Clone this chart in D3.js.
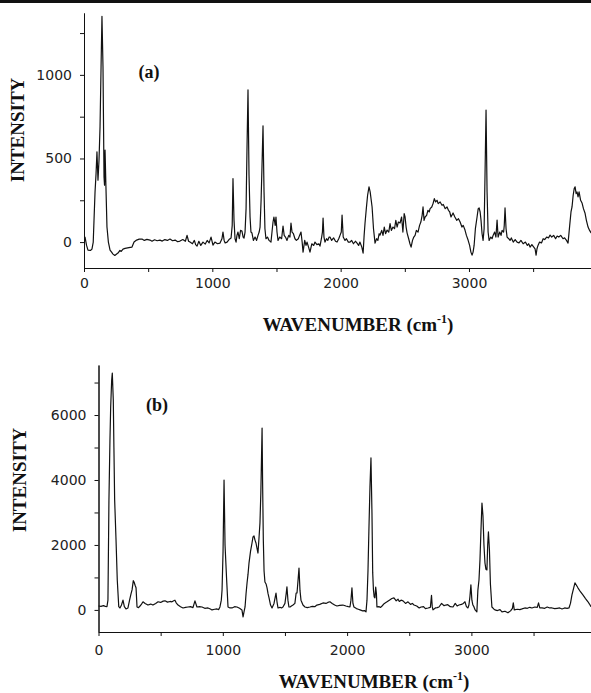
<!DOCTYPE html>
<html>
  <head>
    <meta charset="utf-8" />
    <title>Spectra (a) and (b)</title>
    <script src="https://d3js.org/d3.v7.min.js"></script>
    <style>
      body { margin: 0; background: white; }
      .tick text { font-family: "DejaVu Sans", sans-serif; font-size: 14px; fill: #222; }
      .domain, .tick line { stroke: #111; stroke-width: 1; }
      .title { font-family: "Liberation Serif", "Times New Roman", serif; font-weight: bold; fill: #111; }
    </style>
  </head>
  <body>
    <svg width="591" height="693" id="chart"></svg>

    <script>
      // spectrum (a): [wavenumber, intensity]
      var spectrumA = [
        [0, 30], [8, 30], [20, -20], [31, -48], [50, -50], [62, -42], [72, 0], [78, 130], [86, 300], [94, 410],
        [101, 540], [109, 370], [117, 490], [125, 690], [133, 1050], [140, 1350], [148, 1050], [156, 390], [160, 340], [164, 550],
        [171, 330], [179, 90], [190, 0], [203, -48], [215, -60], [226, -72], [240, -80], [257, -70], [265, -66], [280, -50],
        [290, -55], [304, -42], [320, -38], [340, -35], [360, -32], [374, -30], [390, 0], [410, 12], [430, 18], [452, 18],
        [470, 10], [490, 16], [514, 12], [530, 5], [550, 14], [570, 8], [592, 12], [610, 6], [630, 15], [650, 10],
        [670, 18], [690, 8], [710, 12], [730, 2], [748, 6], [770, 15], [790, 5], [803, 40], [815, 5], [826, 0],
        [845, -10], [860, 10], [870, -15], [881, -24], [895, 5], [910, -20], [927, 0], [945, -12], [960, 10], [975, -5],
        [990, 30], [1005, -18], [1020, 0], [1040, -10], [1060, -6], [1075, 20], [1083, 60], [1092, 10], [1100, -5], [1115, 0],
        [1130, 15], [1146, 24], [1155, 100], [1161, 380], [1169, 130], [1177, 20], [1185, 0], [1192, 40], [1200, 60], [1210, 20],
        [1220, 70], [1231, 66], [1240, 30], [1247, 24], [1255, 60], [1263, 200], [1270, 550], [1278, 910], [1286, 400], [1294, 150],
        [1301, 60], [1309, 54], [1320, 10], [1333, 30], [1345, 10], [1356, 40], [1365, 60], [1372, 90], [1380, 250], [1387, 450],
        [1395, 695], [1403, 300], [1410, 80], [1418, 20], [1430, 30], [1442, 10], [1457, 0], [1465, 60], [1473, 120], [1480, 150],
        [1490, 100], [1496, 150], [1504, 60], [1512, 10], [1525, 30], [1540, 20], [1551, 96], [1560, 40], [1570, 30], [1582, 10],
        [1595, 40], [1605, 30], [1613, 114], [1621, 60], [1632, 50], [1644, 20], [1655, 10], [1670, 20], [1680, 40], [1691, 60],
        [1700, 0], [1707, -60], [1720, 10], [1730, -20], [1738, 0], [1750, -30], [1761, -60], [1775, -10], [1790, -20], [1800, 0],
        [1815, -15], [1830, -10], [1839, -24], [1850, 20], [1858, 60], [1863, 144], [1870, 30], [1878, 0], [1890, 20], [1900, 10],
        [1910, 30], [1917, 30], [1930, 10], [1945, 25], [1960, 5], [1972, 0], [1985, 20], [1995, 40], [2005, 60], [2011, 162],
        [2020, 30], [2034, 10], [2045, 20], [2060, 0], [2073, 0], [2085, 10], [2100, -10], [2115, 5], [2128, -6], [2140, -20],
        [2150, 0], [2165, -30], [2175, -66], [2183, 40], [2190, 114], [2200, 200], [2210, 280], [2221, 330], [2230, 300], [2245, 210],
        [2256, 80], [2268, -6], [2280, 20], [2290, 10], [2300, 50], [2307, 42], [2320, 70], [2330, 40], [2340, 90], [2350, 50],
        [2362, 72], [2375, 60], [2385, 110], [2395, 70], [2408, 90], [2420, 80], [2430, 130], [2440, 90], [2450, 120], [2463, 114],
        [2475, 150], [2485, 60], [2495, 170], [2502, 150], [2510, 90], [2518, 54], [2530, 20], [2540, -10], [2549, -30], [2560, 10],
        [2570, 30], [2580, 40], [2590, 70], [2603, 60], [2615, 100], [2625, 120], [2635, 160], [2642, 210], [2650, 130], [2658, 150],
        [2670, 160], [2680, 190], [2690, 180], [2697, 200], [2710, 210], [2720, 230], [2730, 260], [2740, 240], [2751, 250], [2760, 230],
        [2775, 240], [2790, 220], [2800, 225], [2815, 200], [2829, 210], [2840, 190], [2850, 180], [2860, 150], [2876, 174], [2890, 150],
        [2905, 130], [2918, 140], [2931, 120], [2945, 90], [2955, 100], [2969, 72], [2980, 40], [2993, 12], [3005, -20], [3015, -60],
        [3024, -78], [3032, -60], [3040, -20], [3050, 80], [3063, 150], [3072, 200], [3079, 204], [3087, 180], [3094, 130], [3102, 50],
        [3110, 10], [3118, 80], [3125, 400], [3133, 790], [3141, 300], [3149, 60], [3157, 10], [3170, 30], [3180, 20], [3188, 40],
        [3200, 60], [3210, 30], [3219, 132], [3227, 30], [3240, 60], [3250, 40], [3258, 70], [3270, 60], [3275, 100], [3281, 204],
        [3289, 80], [3297, 30], [3310, 20], [3320, 10], [3330, 25], [3345, 0], [3360, 15], [3375, 0], [3390, -5], [3405, 10],
        [3422, -10], [3440, 0], [3455, -20], [3465, -10], [3476, -30], [3490, -15], [3505, -30], [3515, -40], [3523, -78], [3530, -40],
        [3538, -20], [3550, 0], [3565, -5], [3578, 20], [3590, 15], [3605, 30], [3620, 25], [3632, 42], [3645, 30], [3660, 40],
        [3675, 20], [3687, 36], [3700, 30], [3715, 40], [3733, 20], [3745, 25], [3760, 10], [3772, -6], [3785, 100], [3795, 180],
        [3803, 210], [3812, 280], [3820, 320], [3827, 330], [3835, 290], [3842, 300], [3850, 270], [3858, 300], [3870, 250], [3881, 234],
        [3892, 200], [3904, 174], [3915, 130], [3928, 90], [3940, 70], [3952, 54]
      ];

      // spectrum (b): [wavenumber, intensity]
      var spectrumB = [
        [0, 120], [20, 110], [40, 130], [55, 110], [68, 100], [76, 300], [84, 3380], [92, 5200], [98, 6250], [106, 7080],
        [111, 7290], [119, 6460], [124, 5000], [130, 3380], [141, 2150], [151, 920], [163, 100], [173, 60], [185, 150], [197, 300],
        [208, 100], [221, 30], [237, 60], [250, 300], [262, 500], [270, 615], [280, 900], [286, 860], [295, 750], [302, 680],
        [310, 90], [322, 70], [334, 120], [346, 180], [358, 250], [375, 200], [398, 150], [420, 180], [438, 150], [460, 200],
        [479, 250], [500, 230], [520, 270], [535, 280], [555, 240], [575, 260], [591, 250], [605, 280], [615, 300], [625, 220],
        [640, 150], [660, 100], [680, 60], [700, 80], [720, 90], [740, 100], [760, 70], [776, 280], [792, 90], [812, 100],
        [833, 90], [855, 50], [881, 60], [900, 30], [913, 0], [935, 20], [953, 30], [967, 10], [977, 90], [988, 300],
        [994, 615], [1002, 1800], [1010, 4000], [1018, 2000], [1031, 920], [1042, 90], [1058, 60], [1074, 60], [1095, 100], [1114, 90],
        [1135, 50], [1154, 0], [1163, -215], [1171, -50], [1179, 90], [1187, 500], [1195, 830], [1203, 1100], [1211, 1450], [1223, 1800],
        [1235, 2060], [1243, 2250], [1251, 2280], [1259, 2150], [1267, 2060], [1275, 1900], [1283, 1750], [1291, 2200], [1299, 2680], [1306, 3600],
        [1311, 4600], [1316, 5600], [1320, 4000], [1326, 2150], [1332, 1200], [1339, 860], [1348, 800], [1356, 680], [1364, 500], [1372, 370],
        [1384, 150], [1396, 60], [1412, 200], [1428, 520], [1436, 250], [1444, 60], [1460, 80], [1472, 60], [1484, 90], [1500, 200],
        [1510, 500], [1516, 710], [1524, 300], [1532, 90], [1541, 90], [1552, 120], [1565, 150], [1580, 200], [1590, 520], [1597, 520],
        [1605, 900], [1613, 1290], [1621, 600], [1629, 300], [1645, 150], [1661, 90], [1680, 70], [1701, 90], [1720, 110], [1740, 100],
        [1757, 150], [1780, 170], [1806, 215], [1830, 200], [1845, 230], [1862, 250], [1880, 200], [1900, 150], [1918, 120], [1940, 140],
        [1966, 150], [1990, 120], [2010, 100], [2023, 90], [2031, 300], [2039, 680], [2047, 200], [2055, 90], [2075, 40], [2090, 20],
        [2104, 0], [2125, -30], [2140, -20], [2152, -60], [2160, 300], [2168, 1200], [2176, 2550], [2184, 3800], [2192, 4680], [2200, 3000],
        [2206, 1140], [2212, 615], [2218, 400], [2224, 370], [2230, 700], [2236, 500], [2240, 90], [2255, 100], [2270, 80], [2281, 120],
        [2300, 200], [2321, 250], [2340, 300], [2360, 350], [2377, 370], [2395, 280], [2410, 330], [2420, 260], [2434, 300], [2450, 280],
        [2470, 200], [2490, 250], [2510, 170], [2525, 200], [2538, 150], [2560, 120], [2580, 60], [2595, 90], [2615, 100], [2630, 40],
        [2651, 60], [2670, 80], [2679, 450], [2685, 100], [2691, 0], [2710, 60], [2725, 70], [2739, 90], [2760, 200], [2780, 130],
        [2795, 150], [2810, 160], [2830, 100], [2852, 90], [2870, 200], [2885, 120], [2900, 150], [2920, 170], [2935, 200], [2948, 250],
        [2960, 100], [2972, 60], [2980, 150], [2988, 400], [2996, 770], [3004, 300], [3012, 150], [3020, 100], [3030, 0], [3044, -60],
        [3052, 600], [3061, 920], [3069, 1540], [3077, 2460], [3085, 3290], [3093, 2900], [3101, 2000], [3109, 1450], [3117, 1250], [3125, 1230],
        [3131, 2000], [3137, 2400], [3145, 1850], [3153, 800], [3165, 90], [3180, 30], [3189, 0], [3210, -20], [3230, 10], [3246, -60],
        [3270, -40], [3294, -90], [3315, -30], [3330, 50], [3337, 215], [3345, 0], [3370, 20], [3390, 10], [3407, 30], [3430, 60],
        [3450, 50], [3470, 80], [3487, 60], [3510, 90], [3530, 80], [3540, 215], [3550, 60], [3568, 60], [3590, 50], [3610, 90],
        [3630, 60], [3649, 60], [3670, 40], [3690, 50], [3710, 60], [3729, 30], [3750, 60], [3770, 50], [3785, 60], [3797, 200],
        [3809, 460], [3821, 650], [3833, 830], [3845, 760], [3857, 680], [3877, 560], [3897, 460], [3918, 350], [3938, 250], [3950, 180],
        [3962, 100]
      ];

      // tick values
      var xTicksMajor = [0, 1000, 2000, 3000];
      var xTicksMinor = [500, 1500, 2500, 3500];
      var yTicksMajorA = [0, 500, 1000];
      var yTicksMinorA = [250, 750, 1250];
      var yTicksMajorB = [0, 2000, 4000, 6000];
      var yTicksMinorB = [1000, 3000, 5000, 7000];

      var svg = d3.select("#chart");

      // dark scan edge along the top of the page
      svg.append("rect").attr("x", 0).attr("y", 0).attr("width", 591).attr("height", 3).attr("fill", "#111");

      function drawPanel(opts) {
        var x = d3.scaleLinear().domain([0, 4000]).range(opts.xRange);
        var y = d3.scaleLinear().domain(opts.yDomain).range(opts.yRange);
        var g = svg.append("g");

        // y axis
        g.append("g")
          .attr("transform", "translate(" + opts.xRange[0] + ",0)")
          .call(d3.axisLeft(y).tickValues(opts.yMajor).tickSize(4).tickSizeOuter(0).tickPadding(8).tickFormat(d3.format("d")));
        g.append("g")
          .attr("transform", "translate(" + opts.xRange[0] + ",0)")
          .call(d3.axisLeft(y).tickValues(opts.yMinor).tickSize(4).tickSizeOuter(0).tickFormat(""));

        // x axis
        g.append("g")
          .attr("transform", "translate(0," + opts.yRange[0] + ")")
          .call(d3.axisBottom(x).tickValues(xTicksMajor).tickSize(4).tickSizeOuter(0).tickPadding(opts.xPad).tickFormat(d3.format("d")));
        g.append("g")
          .attr("transform", "translate(0," + opts.yRange[0] + ")")
          .call(d3.axisBottom(x).tickValues(xTicksMinor).tickSize(4).tickSizeOuter(0).tickFormat(""));

        // spectrum line
        var line = d3.line()
          .x(function(d){ return x(d[0]); })
          .y(function(d){ return y(d[1]); });
        g.append("path")
          .datum(opts.data)
          .attr("fill", "none")
          .attr("stroke", "#111")
          .attr("stroke-width", 1.2)
          .attr("stroke-linejoin", "round")
          .attr("d", line);

        // labels
        g.append("text").attr("class", "title")
          .attr("transform", "translate(" + opts.yLabelPos[0] + "," + opts.yLabelPos[1] + ") rotate(-90)")
          .attr("text-anchor", "middle")
          .attr("font-size", 19)
          .text("INTENSITY");
        g.append("text").attr("class", "title")
          .attr("x", opts.tagPos[0]).attr("y", opts.tagPos[1])
          .attr("text-anchor", "middle")
          .attr("font-size", 18)
          .text(opts.tag);
        var xl = g.append("text").attr("class", "title")
          .attr("x", opts.xLabelPos[0]).attr("y", opts.xLabelPos[1])
          .attr("text-anchor", "middle")
          .attr("font-size", 19);
        xl.append("tspan").text("WAVENUMBER (cm");
        xl.append("tspan").attr("font-size", 12).attr("dy", -8).text("-1");
        xl.append("tspan").attr("dy", 8).text(")");
      }

      drawPanel({
        data: spectrumA,
        xRange: [84, 597.3],
        yDomain: [-155, 1370],
        yRange: [268, 13],
        yMajor: yTicksMajorA,
        yMinor: yTicksMinorA,
        xPad: 6,
        yLabelPos: [24, 130],
        tag: "(a)",
        tagPos: [149, 78],
        xLabelPos: [358, 331]
      });

      drawPanel({
        data: spectrumB,
        xRange: [98.5, 595.7],
        yDomain: [-680, 7540],
        yRange: [632, 365],
        yMajor: yTicksMajorB,
        yMinor: yTicksMinorB,
        xPad: 9,
        yLabelPos: [26, 480],
        tag: "(b)",
        tagPos: [157, 411],
        xLabelPos: [374, 688]
      });
    </script>
  </body>
</html>
